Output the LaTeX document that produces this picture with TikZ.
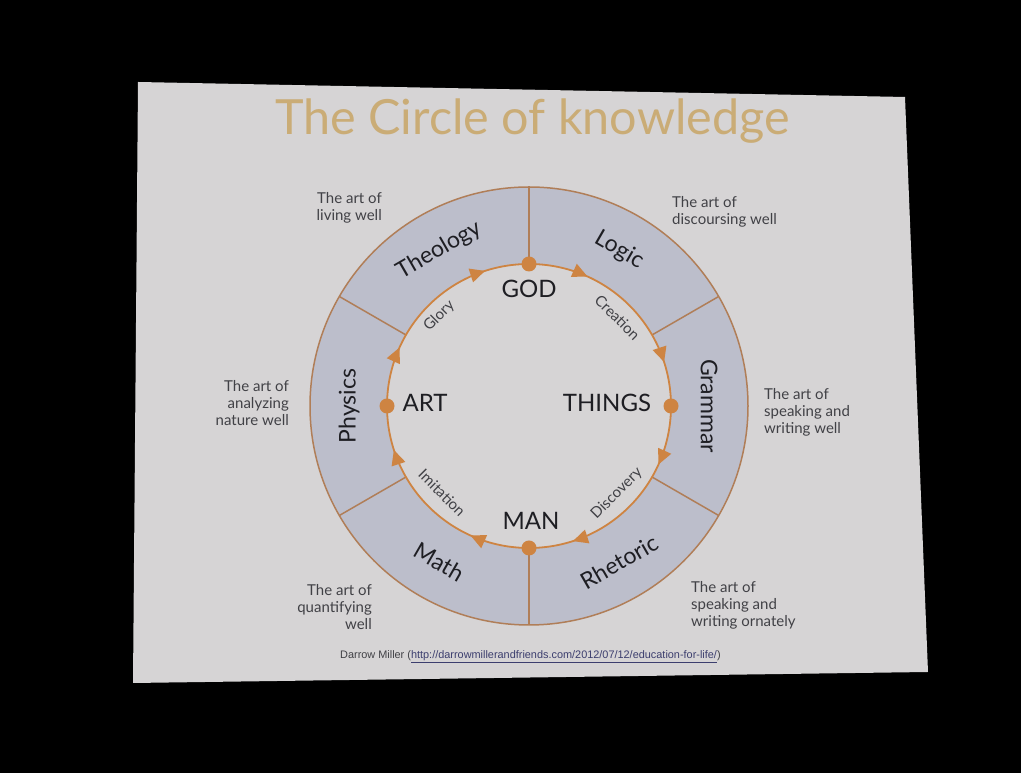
\documentclass[tikz,border=0pt]{standalone}
\usepackage{fontspec}
\setmainfont{Lato}
\newfontfamily\footfont{Liberation Sans}
\usetikzlibrary{decorations.markings,arrows.meta,backgrounds}
\definecolor{slidebg}{RGB}{214,212,213}
\definecolor{ringfill}{RGB}{188,190,203}
\definecolor{ringline}{RGB}{176,126,88}
\definecolor{arrowc}{RGB}{206,132,66}
\definecolor{titlec}{RGB}{202,172,118}
\definecolor{txt}{RGB}{30,30,35}
\definecolor{smalltxt}{RGB}{65,65,70}
\definecolor{linkc}{RGB}{60,62,110}
\begin{document}
\begin{tikzpicture}[x=1pt,y=1pt,
  seglabel/.style={font=\fontsize{23}{23}\selectfont, text=txt, inner sep=0pt},
  hub/.style={font=\fontsize{24}{24}\selectfont, text=txt, inner sep=0pt},
  flow/.style={font=\fontsize{15}{15}\selectfont, text=smalltxt, inner sep=0pt},
  artleft/.style={font=\fontsize{15}{17}\selectfont, text=smalltxt, align=right, anchor=east, inner sep=0pt},
  artright/.style={font=\fontsize{15}{17}\selectfont, text=smalltxt, align=left, anchor=west, inner sep=0pt},
  dot/.style={circle, fill=arrowc, inner sep=0pt, minimum size=15pt},
  divider/.style={draw=ringline, line width=1.5pt},
  cyclearc/.style={draw=arrowc, line width=1.8pt, postaction={decorate},
    decoration={markings,
      mark=at position 0.27 with {\arrow{Triangle[length=15pt,width=14pt]}},
      mark=at position 0.80 with {\arrow{Triangle[length=15pt,width=14pt]}}}},
]
\begin{scope}[on background layer]
  \fill[black] (0,0) rectangle (1021,773);
  \fill[slidebg] (138,691) -- (905,676) -- (928,101) -- (133,90) -- cycle;
  \begin{scope}[shift={(529,367)}]
    \fill[ringfill, even odd rule] (0,0) circle[radius=219] (0,0) circle[radius=142];
    \draw[ringline, line width=1.5pt] (0,0) circle[radius=219];
    \foreach \a in {30,90,...,330} \draw[divider] (\a:142) -- (\a:219);
  \end{scope}
\end{scope}

\node[anchor=base west, font=\fontsize{48.5}{48.5}\selectfont, text=titlec, inner sep=0pt] (title) at (275,638) {The Circle of knowledge};

\begin{scope}[shift={(529,367)}]
  \node[dot] (god) at (90:142) {};
  \node[dot] (things) at (0:142) {};
  \node[dot] (man) at (-90:142) {};
  \node[dot] (art) at (180:142) {};

  \node[seglabel, rotate=30] (theology) at (120:180) {Theology};
  \node[seglabel, rotate=-30] (logic) at (60:180) {Logic};
  \node[seglabel, rotate=-90] (grammar) at (0:180) {Grammar};
  \node[seglabel, rotate=30] (rhetoric) at (-60:180) {Rhetoric};
  \node[seglabel, rotate=-30] (math) at (-120:180) {Math};
  \node[seglabel, rotate=90] (physics) at (180:180) {Physics};

  \node[flow, rotate=45] (glory) at (135:127) {Glory};
  \node[flow, rotate=-45] (creation) at (45:125) {Creation};
  \node[flow, rotate=45] (discovery) at (-45:124) {Discovery};
  \node[flow, rotate=-45] (imitation) at (-135:123) {Imitation};
\end{scope}

\begin{scope}[on background layer]
  \draw[cyclearc] (god.center) to[out=0, in=90] (things.center);
  \draw[cyclearc] (things.center) to[out=-90, in=0] (man.center);
  \draw[cyclearc] (man.center) to[out=180, in=-90] (art.center);
  \draw[cyclearc] (art.center) to[out=90, in=180] (god.center);
\end{scope}

\node[hub] (godl) at (529,484) {GOD};
\node[hub] (artl) at (425,370) {ART};
\node[hub] (thingsl) at (607,370) {THINGS};
\node[hub] (manl) at (531,252) {MAN};

\node[artleft] (aTheo) at (382,565) {The art of\\living well};
\node[artleft] (aPhys) at (289,370) {The art of\\analyzing\\nature well};
\node[artleft] (aMath) at (372,166) {The art of\\quantifying\\well};
\node[artright] (aLogic) at (672,561) {The art of\\discoursing well};
\node[artright] (aGram) at (764,361) {The art of\\speaking and\\writing well};
\node[artright] (aRhet) at (691,168) {The art of\\speaking and\\writing ornately};

\node[anchor=west, inner sep=0pt, font=\footfont\fontsize{10.9}{11}\selectfont, text=smalltxt] (foot) at (340,116)
  {Darrow Miller (\textcolor{linkc}{\underline{http://darrowmillerandfriends.com/2012/07/12/education-for-life/}})};
\end{tikzpicture}
\end{document}
